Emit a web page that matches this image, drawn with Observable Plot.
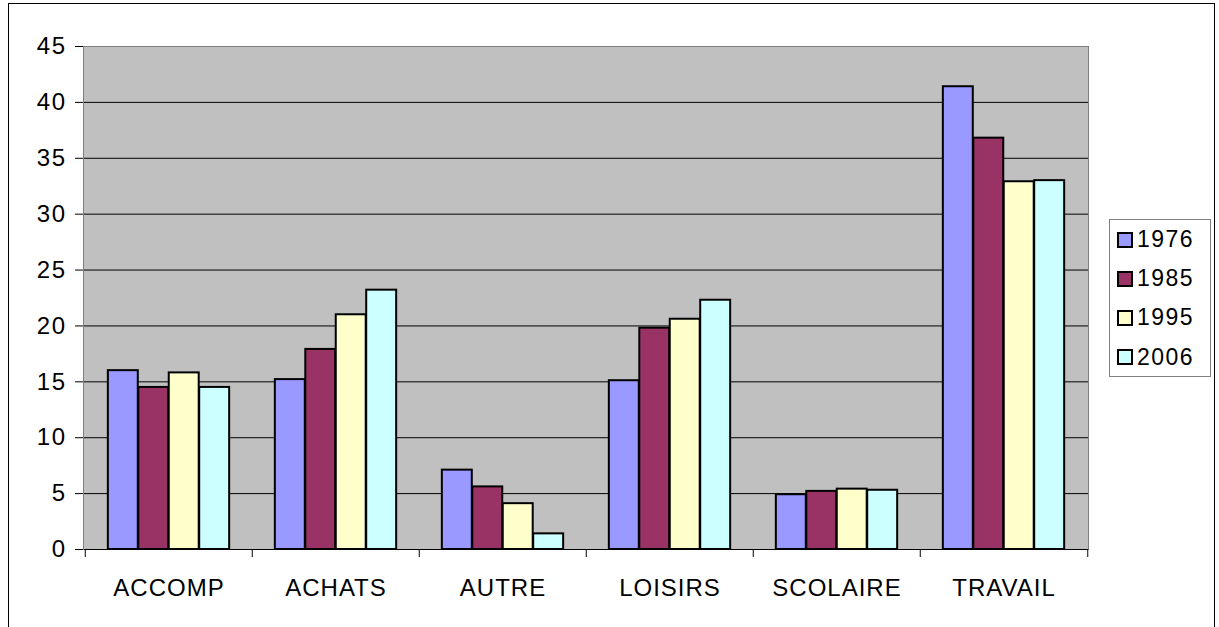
<!DOCTYPE html>
<html>
<head>
<meta charset="utf-8">
<script src="https://cdn.jsdelivr.net/npm/d3@7"></script>
<script src="https://cdn.jsdelivr.net/npm/@observablehq/plot@0.6"></script>
<style>
  html, body { margin: 0; padding: 0; background: #fff; }
  #wrap { position: relative; width: 1219px; height: 627px; overflow: hidden; background: #fff; }
  #outer { position: absolute; left: 8px; top: 3px; width: 1207px; height: 660px; border: 1px solid #000; box-sizing: border-box; }
  #chart { position: absolute; left: 0; top: 0; }
  #legend { position: absolute; left: 1109px; top: 219px; width: 102px; height: 158px; border: 1px solid #808080; box-sizing: border-box; background: #fff;
            font-family: "Liberation Sans", Arial, sans-serif; font-size: 23px; letter-spacing: 1.5px; color: #000; }
  .row { height: 39.2px; display: flex; align-items: center; padding-left: 7px; }
  .sw { width: 16px; height: 16px; border: 2px solid #000; box-sizing: border-box; margin-right: 4px; flex: none; }
</style>
</head>
<body>
<div id="wrap">
  <div id="outer"></div>
  <div id="chart"></div>
  <div id="legend"></div>
</div>
<script>
const categories = ["ACCOMP", "ACHATS", "AUTRE", "LOISIRS", "SCOLAIRE", "TRAVAIL"];
const years = ["1976", "1985", "1995", "2006"];
const values1976 = [16.0, 15.2, 7.1, 15.1, 4.9, 41.4];
const values1985 = [14.5, 17.9, 5.6, 19.8, 5.2, 36.8];
const values1995 = [15.8, 21.0, 4.1, 20.6, 5.4, 32.9];
const values2006 = [14.5, 23.2, 1.4, 22.3, 5.3, 33.0];
const yTicks = [0, 5, 10, 15, 20, 25, 30, 35, 40, 45];
const gridTicks = [5, 10, 15, 20, 25, 30, 35, 40];
const colors = ["#9999FF", "#993366", "#FFFFCC", "#CCFFFF"];

const series = [values1976, values1985, values1995, values2006];
const data = [];
years.forEach((yr, k) => categories.forEach((c, i) => data.push({category: c, year: yr, value: series[k][i]})));

// layout
const W = 1219, H = 627;
const mL = 83, mR = W - 1088, mT = 46, mB = H - 549;
const plotW = W - mL - mR, plotH = H - mT - mB;
const bw = plotW / categories.length;     // band width per category
const step = bw / (years.length + 1.5);   // bar width (Excel gap 150%)

const barMarks = years.map((yr, k) => Plot.barY(data.filter(d => d.year === yr), {
  x: "category", y: "value", fill: colors[k], stroke: "#000", strokeWidth: 2,
  insetLeft: (0.75 + k) * step, insetRight: bw - (1.75 + k) * step
}));

const chart = Plot.plot({
  width: W, height: H,
  marginLeft: mL, marginRight: mR, marginTop: mT, marginBottom: mB,
  style: {fontFamily: "'Liberation Sans', Arial, sans-serif", fontSize: "24px", background: "transparent", color: "#000", overflow: "visible"},
  x: {domain: categories, padding: 0, label: null},
  y: {domain: [0, 45], label: null},
  marks: [
    Plot.frame({fill: "#C0C0C0", stroke: null}),
    Plot.ruleY(gridTicks, {stroke: "#000", strokeWidth: 1}),
    ...barMarks,
    Plot.ruleY([0], {stroke: "#000", strokeWidth: 1}),
    Plot.frame({anchor: "top", stroke: "#808080"}),
    Plot.frame({anchor: "right", stroke: "#808080"}),
    Plot.frame({anchor: "left", stroke: "#808080"}),
    Plot.ruleX(categories, {x: d => d, dx: -bw / 2, insetTop: plotH, insetBottom: -8, stroke: "#000"}),
    Plot.ruleX(categories.slice(-1), {x: d => d, dx: bw / 2, insetTop: plotH, insetBottom: -8, stroke: "#000"}),
    Plot.axisX({tickSize: 0, tickPadding: 29, fontSize: 24, fill: "#000"}),
    Plot.axisY({ticks: yTicks, tickSize: 8, tickPadding: 9, fontSize: 24, stroke: "#000", fill: "#000", tickFormat: d => String(d)})
  ]
});
document.getElementById("chart").appendChild(chart);
d3.select(chart).selectAll("[aria-label='x-axis tick label'] text").style("letter-spacing", "1px");
d3.select(chart).selectAll("[aria-label='y-axis tick label'] text").style("letter-spacing", "1.5px");

const legend = d3.select("#legend");
years.forEach((yr, k) => {
  const row = legend.append("div").attr("class", "row");
  row.append("div").attr("class", "sw").style("background", colors[k]);
  row.append("span").text(yr);
});
</script>
</body>
</html>
